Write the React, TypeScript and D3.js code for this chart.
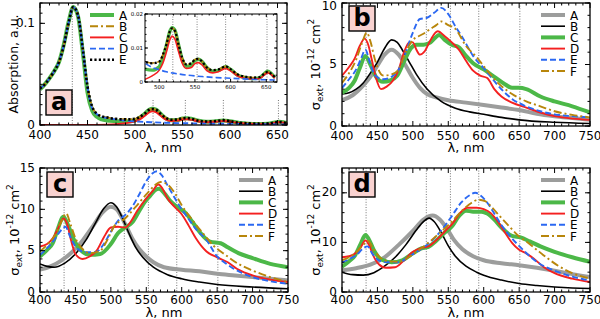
import React from 'react';
import * as d3 from 'd3';

type Pt = [number, number];

// ---------- panel a : absorption ----------
const aA: Pt[] = [[400,0.035],[405,0.040],[410,0.046],[415,0.053],[420,0.062],[425,0.079],[430,0.101],[435,0.116],[440,0.107],[445,0.072],[450,0.032],[455,0.014],[460,0.008],[465,0.0055],[470,0.0045],[480,0.0038],[490,0.0035],[500,0.0045],[505,0.0072],[510,0.0108],[515,0.015],[518,0.016],[522,0.0152],[527,0.011],[532,0.0068],[538,0.0046],[545,0.005],[550,0.0063],[555,0.0067],[560,0.006],[567,0.0042],[575,0.0032],[583,0.0034],[593,0.0045],[600,0.0037],[610,0.002],[620,0.0013],[630,0.001],[640,0.0012],[647,0.0024],[652,0.0032],[657,0.0025],[662,0.0013]];
const aB: Pt[] = [[400,0.036],[405,0.040],[410,0.046],[415,0.053],[420,0.062],[425,0.078],[430,0.100],[435,0.116],[440,0.108],[445,0.075],[450,0.038],[455,0.018],[460,0.011],[465,0.0085],[470,0.0075],[480,0.006],[490,0.0056],[500,0.006],[505,0.008],[510,0.011],[515,0.015],[518,0.0158],[522,0.015],[527,0.011],[532,0.0072],[538,0.0052],[545,0.0055],[550,0.0066],[555,0.0068],[560,0.006],[567,0.0042],[575,0.0035],[583,0.0037],[593,0.0046],[600,0.0038],[610,0.0022],[620,0.0016],[630,0.0013],[640,0.0014],[647,0.0024],[652,0.003],[657,0.0024],[662,0.0014]];
const aC: Pt[] = [[400,0],[440,0],[460,0.0001],[470,0.0003],[480,0.0008],[490,0.0018],[500,0.0035],[505,0.0055],[510,0.0088],[515,0.0125],[518,0.0135],[522,0.0126],[527,0.009],[532,0.0056],[538,0.004],[545,0.0043],[550,0.0054],[555,0.0057],[560,0.005],[567,0.0033],[575,0.0027],[583,0.003],[593,0.004],[600,0.0032],[610,0.0017],[620,0.0011],[630,0.0009],[640,0.001],[647,0.002],[652,0.0027],[657,0.0021],[662,0.0011]];
const aD: Pt[] = [[400,0.036],[405,0.040],[410,0.046],[415,0.053],[420,0.062],[425,0.078],[430,0.100],[435,0.116],[440,0.108],[445,0.075],[450,0.037],[455,0.016],[460,0.0105],[465,0.008],[470,0.007],[480,0.0055],[490,0.0043],[500,0.0036],[510,0.003],[520,0.0026],[540,0.002],[560,0.0016],[580,0.0013],[600,0.0011],[630,0.0008],[662,0.0006]];
const aE: Pt[] = [[400,0.036],[405,0.040],[410,0.046],[415,0.053],[420,0.062],[425,0.078],[430,0.100],[435,0.116],[440,0.108],[445,0.075],[450,0.038],[455,0.018],[460,0.011],[465,0.0085],[470,0.0075],[480,0.006],[490,0.0055],[500,0.006],[505,0.008],[510,0.011],[515,0.015],[518,0.0158],[522,0.015],[527,0.011],[532,0.0072],[538,0.0052],[545,0.0055],[550,0.0066],[555,0.0068],[560,0.006],[567,0.0042],[575,0.0035],[583,0.0037],[593,0.0046],[600,0.0038],[610,0.0022],[620,0.0016],[630,0.0013],[640,0.0014],[647,0.0024],[652,0.003],[657,0.0024],[662,0.0014]];

// ---------- panel b ----------
const bA: Pt[] = [[400,2.1],[415,2.5],[430,3.3],[440,4.0],[450,4.9],[460,5.8],[470,6.2],[480,5.8],[490,4.9],[500,3.9],[510,3.1],[520,2.6],[535,2.3],[550,2.1],[575,1.9],[600,1.7],[625,1.5],[650,1.3],[675,1.0],[700,0.8],[725,0.65],[750,0.5]];
const bB: Pt[] = [[400,2.6],[410,2.7],[420,3.0],[430,3.5],[440,4.3],[450,5.2],[460,6.3],[470,7.0],[478,6.8],[485,6.2],[495,5.2],[505,4.2],[520,3.0],[540,2.0],[560,1.45],[580,1.15],[600,0.95],[625,0.7],[650,0.5],[700,0.3],[750,0.2]];
const bC: Pt[] = [[400,2.7],[410,3.1],[418,3.7],[425,4.7],[433,5.7],[440,5.0],[448,4.0],[458,3.6],[468,3.7],[478,4.1],[488,5.3],[497,6.3],[505,6.6],[515,6.6],[525,6.8],[532,7.2],[537,7.4],[545,7.0],[555,6.6],[565,6.4],[575,5.7],[585,5.1],[600,4.6],[615,4.0],[630,3.4],[640,3.1],[650,3.1],[660,3.0],[680,2.4],[700,2.0],[725,1.6],[750,1.1]];
const bD: Pt[] = [[400,4.1],[410,4.8],[418,5.5],[425,6.5],[432,7.1],[437,6.6],[442,5.4],[448,3.9],[455,3.0],[463,3.2],[472,3.7],[480,4.6],[487,5.9],[495,6.8],[500,6.8],[505,6.2],[510,5.8],[517,6.1],[525,7.0],[535,7.7],[545,7.3],[555,6.8],[565,6.2],[575,5.3],[585,4.5],[595,4.1],[605,3.9],[615,3.0],[625,2.4],[640,1.9],[660,1.5],[680,1.1],[700,0.8],[725,0.6],[750,0.5]];
const bE: Pt[] = [[400,3.1],[410,3.8],[420,4.6],[427,5.5],[433,6.2],[440,5.0],[447,4.1],[458,3.8],[470,4.0],[480,4.6],[490,6.0],[500,7.6],[510,8.7],[520,8.8],[530,9.2],[540,9.6],[550,9.1],[560,8.1],[570,7.2],[585,5.7],[600,4.7],[610,4.0],[620,3.3],[630,2.7],[640,2.2],[660,1.6],[680,1.2],[700,0.95],[725,0.8],[750,0.7]];
const bF: Pt[] = [[400,3.5],[410,4.3],[420,5.4],[428,6.7],[435,7.6],[440,6.9],[447,5.3],[458,4.1],[470,4.2],[480,4.6],[490,6.0],[500,7.0],[508,7.3],[515,7.5],[525,7.9],[533,8.2],[540,8.5],[550,8.2],[560,7.9],[575,6.5],[590,5.6],[605,4.5],[620,3.5],[640,2.6],[660,2.0],[680,1.6],[700,1.2],[725,0.9],[750,0.7]];

// ---------- panel c ----------
const cA: Pt[] = [[400,2.7],[415,3.1],[430,3.8],[445,4.8],[460,6.2],[475,8.0],[488,9.6],[500,10.3],[508,10.0],[515,9.1],[522,7.9],[530,6.5],[540,5.2],[550,4.3],[560,3.6],[575,3.0],[600,2.7],[625,2.5],[650,2.2],[675,2.0],[700,1.8],[725,1.6],[750,1.4]];
const cB: Pt[] = [[400,3.4],[410,3.1],[420,3.0],[435,3.5],[450,4.6],[465,6.3],[478,8.3],[490,10.1],[500,10.8],[508,10.3],[515,9.2],[525,7.2],[535,5.4],[545,4.2],[560,3.0],[580,2.1],[600,1.6],[625,1.2],[650,0.9],[700,0.6],[750,0.4]];
const cC: Pt[] = [[400,4.3],[410,5.1],[418,5.9],[425,7.6],[433,9.1],[440,8.0],[448,6.3],[458,5.0],[470,4.5],[485,4.6],[500,5.8],[510,7.1],[520,7.8],[530,8.4],[540,9.8],[548,10.9],[555,11.6],[562,12.3],[568,12.5],[575,12.0],[583,11.1],[595,10.2],[605,9.6],[615,8.5],[625,7.3],[640,6.1],[655,5.9],[665,5.4],[680,4.7],[700,4.1],[725,3.4],[750,3.0]];
const cD: Pt[] = [[400,5.5],[410,5.8],[418,6.5],[425,7.6],[433,8.9],[438,8.3],[444,6.2],[450,4.6],[460,4.0],[470,4.3],[480,5.0],[490,6.6],[500,7.8],[510,7.9],[520,7.8],[528,8.5],[537,9.8],[548,11.1],[558,12.1],[567,13.0],[573,12.5],[580,11.3],[590,10.3],[600,9.4],[610,8.0],[620,6.5],[635,4.9],[650,4.2],[665,3.6],[680,2.7],[700,2.0],[725,1.5],[750,1.2]];
const cE: Pt[] = [[400,4.5],[410,5.3],[420,6.3],[430,7.5],[436,7.9],[442,6.8],[452,5.3],[465,4.8],[478,4.8],[490,5.8],[500,7.3],[510,8.6],[520,9.3],[530,10.3],[540,11.8],[550,13.4],[558,14.3],[565,14.6],[572,14.1],[580,12.9],[590,11.4],[600,10.0],[610,8.8],[620,7.6],[635,6.3],[650,4.3],[660,3.6],[670,3.0],[685,2.3],[700,1.8],[725,1.3],[750,1.0]];
const cF: Pt[] = [[400,4.9],[410,5.7],[420,6.7],[430,8.5],[437,9.5],[443,8.2],[450,6.5],[460,5.2],[470,4.7],[485,5.0],[495,6.3],[505,8.0],[520,8.9],[535,10.3],[550,11.8],[562,12.9],[570,13.3],[580,13.0],[590,12.0],[600,10.5],[615,8.7],[630,7.1],[645,5.6],[660,4.6],[680,3.4],[700,2.6],[725,1.8],[750,1.2]];

// ---------- panel d ----------
const dA: Pt[] = [[400,4.4],[420,4.8],[440,5.5],[460,7.0],[480,9.5],[500,12.3],[515,14.6],[528,15.4],[538,14.6],[548,12.8],[558,10.5],[570,8.6],[585,7.2],[600,6.4],[625,5.8],[650,5.4],[675,4.9],[700,4.3],[725,3.6],[750,3.0]];
const dB: Pt[] = [[400,4.0],[415,3.5],[430,3.4],[445,3.9],[460,5.2],[475,7.0],[490,9.5],[505,12.5],[515,14.2],[523,14.9],[530,14.2],[540,12.0],[550,9.3],[560,7.2],[575,5.2],[590,4.0],[600,3.4],[625,2.4],[650,1.7],[675,1.3],[700,1.0],[725,0.8],[750,0.7]];
const dC: Pt[] = [[400,5.1],[410,6.2],[418,7.3],[426,9.6],[433,11.5],[438,10.6],[445,8.4],[455,6.6],[470,6.0],[485,6.4],[500,7.8],[512,8.8],[522,9.1],[532,10.2],[545,12.0],[555,13.2],[565,15.3],[575,16.4],[585,16.2],[597,16.2],[605,15.8],[615,14.6],[625,13.0],[640,11.3],[652,11.0],[665,10.2],[680,9.2],[700,8.1],[725,7.0],[750,6.1]];
const dD: Pt[] = [[400,7.0],[410,7.2],[418,7.7],[426,8.9],[433,10.4],[438,9.5],[444,7.4],[452,5.6],[462,4.9],[475,5.0],[487,6.3],[500,8.1],[512,8.9],[522,9.2],[532,10.3],[545,12.2],[557,14.0],[567,16.0],[577,17.0],[590,17.0],[600,16.7],[610,15.9],[620,14.2],[630,12.0],[640,9.9],[650,8.5],[660,7.8],[670,6.8],[685,5.0],[700,3.8],[725,2.7],[750,2.0]];
const dE: Pt[] = [[400,6.0],[410,6.6],[420,7.4],[430,8.8],[436,9.2],[443,7.7],[452,6.4],[465,6.0],[480,6.0],[495,7.2],[510,8.5],[525,10.1],[540,12.4],[555,15.3],[568,18.0],[580,19.5],[588,20.0],[596,19.4],[605,18.0],[615,15.8],[625,13.5],[640,10.8],[652,9.0],[665,7.2],[680,5.6],[700,4.3],[725,3.1],[750,2.3]];
const dF: Pt[] = [[400,6.4],[410,7.0],[420,8.0],[430,9.5],[437,10.3],[443,9.0],[452,7.2],[465,6.2],[480,6.1],[495,7.1],[510,8.6],[525,10.3],[540,12.2],[555,14.2],[570,16.5],[583,18.0],[592,18.6],[602,18.3],[612,17.0],[622,15.4],[635,13.4],[650,11.2],[662,10.0],[675,8.5],[690,6.8],[705,5.3],[725,3.8],[750,2.7]];

// tick values / reference lines
const xTicksA = [400, 450, 500, 550, 600, 650];
const xTicksBCD = [400, 450, 500, 550, 600, 650, 700, 750];
const insetTicks = [500, 550, 600, 650];
const refLines = [434, 519, 553, 593, 651];

const FONT = "'DejaVu Sans', sans-serif";

const STYLES: Record<string, { stroke: string; width: number; dash?: string }> = {
  gray: { stroke: '#9c9d9c', width: 4 },
  black: { stroke: '#000', width: 1.6 },
  green: { stroke: '#4cb848', width: 4 },
  red: { stroke: '#f42020', width: 1.9 },
  blue: { stroke: '#2b68f2', width: 1.9, dash: '6,3' },
  gold: { stroke: '#b8860b', width: 1.9, dash: '8,3,2,3' },
  dotted: { stroke: '#000', width: 2.6, dash: '2.2,2.2' },
};

interface Curve { name: string; data: Pt[]; style: string }

const curvesA: Curve[] = [
  { name: 'A', data: aA, style: 'green' },
  { name: 'B', data: aB, style: 'gold' },
  { name: 'C', data: aC, style: 'red' },
  { name: 'D', data: aD, style: 'blue' },
  { name: 'E', data: aE, style: 'dotted' },
];
const six = (A: Pt[], B: Pt[], C: Pt[], D: Pt[], E: Pt[], F: Pt[]): Curve[] => [
  { name: 'A', data: A, style: 'gray' },
  { name: 'B', data: B, style: 'black' },
  { name: 'C', data: C, style: 'green' },
  { name: 'D', data: D, style: 'red' },
  { name: 'E', data: E, style: 'blue' },
  { name: 'F', data: F, style: 'gold' },
];

interface PanelDef {
  letter: string;
  left: number; right: number; top: number; bottom: number;
  xDomain: [number, number]; yDomain: [number, number];
  xTicks: number[]; yTicks: number[]; yMinor: number;
  curves: Curve[];
  legendX: number; legendY: number;
  boxX: number; boxY: number;
  ylabel: 'abs' | 'sigma';
  ylabelX: number;
  tickDy: number; titleDy: number;
}

const line = (x: d3.ScaleLinear<number, number>, y: d3.ScaleLinear<number, number>) =>
  d3.line<Pt>().x(d => x(d[0])).y(d => y(d[1])).curve(d3.curveMonotoneX);

function Ticks({ x, y, xMajor, xMinor, yMajor, yMinor, big = 5, small = 2.5 }: any) {
  const [l, r] = x.range();
  const [b, t] = y.range();
  const out: JSX.Element[] = [];
  xMajor.forEach((v: number, i: number) => {
    out.push(<line key={'xb' + i} x1={x(v)} x2={x(v)} y1={b} y2={b - big} />);
    out.push(<line key={'xt' + i} x1={x(v)} x2={x(v)} y1={t} y2={t + big} />);
  });
  xMinor.forEach((v: number, i: number) => {
    out.push(<line key={'xmb' + i} x1={x(v)} x2={x(v)} y1={b} y2={b - small} />);
    out.push(<line key={'xmt' + i} x1={x(v)} x2={x(v)} y1={t} y2={t + small} />);
  });
  yMajor.forEach((v: number, i: number) => {
    out.push(<line key={'yl' + i} x1={l} x2={l + big} y1={y(v)} y2={y(v)} />);
    out.push(<line key={'yr' + i} x1={r} x2={r - big} y1={y(v)} y2={y(v)} />);
  });
  yMinor.forEach((v: number, i: number) => {
    out.push(<line key={'yml' + i} x1={l} x2={l + small} y1={y(v)} y2={y(v)} />);
    out.push(<line key={'ymr' + i} x1={r} x2={r - small} y1={y(v)} y2={y(v)} />);
  });
  return <g stroke="#000" strokeWidth={1}>{out}</g>;
}

function Inset() {
  const x = d3.scaleLinear().domain([480, 665]).range([145, 277]);
  const y = d3.scaleLinear().domain([0, 0.02]).range([82, 14]);
  const gen = line(x, y);
  const xMinor = d3.range(480, 666, 10).filter(v => v % 50 !== 0);
  const yMinor = d3.range(0, 0.0201, 0.002);
  return (
    <g>
      <rect x={145} y={14} width={132} height={68} fill="#fff" />
      <clipPath id="clip-inset"><rect x={145} y={14} width={132} height={68} /></clipPath>
      {refLines.slice(1).map(v => (
        <line key={v} x1={x(v)} x2={x(v)} y1={14} y2={82} stroke="#666" strokeWidth={0.8} strokeDasharray="1,1.5" />
      ))}
      <g clipPath="url(#clip-inset)">
        {curvesA.map(c => {
          const s = STYLES[c.style];
          return <path key={c.name} d={gen(c.data) || ''} fill="none" stroke={s.stroke}
            strokeWidth={s.width * 0.85} strokeDasharray={s.dash} />;
        })}
      </g>
      <Ticks x={x} y={y} xMajor={insetTicks} xMinor={xMinor} yMajor={[0, 0.01, 0.02]} yMinor={yMinor} big={3} small={1.5} />
      <rect x={145} y={14} width={132} height={68} fill="none" stroke="#000" strokeWidth={1} />
      <g fontFamily={FONT} fontSize={5.5} fill="#000">
        {insetTicks.map(v => <text key={v} x={x(v)} y={89} textAnchor="middle">{v}</text>)}
        {[0, 0.01, 0.02].map(v => <text key={v} x={143} y={y(v) + 2} textAnchor="end">{v}</text>)}
      </g>
    </g>
  );
}

function Panel({ p }: { p: PanelDef }) {
  const x = d3.scaleLinear().domain(p.xDomain).range([p.left, p.right]);
  const y = d3.scaleLinear().domain(p.yDomain).range([p.bottom, p.top]);
  const gen = line(x, y);
  const xMinor = d3.range(p.xDomain[0], p.xDomain[1] + 0.1, 10).filter(v => v % 50 !== 0);
  const yMinor = d3.range(p.yDomain[0], p.yDomain[1] + 1e-9, p.yMinor);
  const isA = p.letter === 'a';
  const cx = (p.left + p.right) / 2;
  const cy = (p.top + p.bottom) / 2;
  return (
    <g>
      <clipPath id={'clip-' + p.letter}>
        <rect x={p.left} y={p.top} width={p.right - p.left} height={p.bottom - p.top} />
      </clipPath>
      {refLines.map((v, i) => (
        <line key={v} x1={x(v)} x2={x(v)} y1={isA && i > 0 ? p.bottom - 25 : p.top} y2={p.bottom}
          stroke="#666" strokeWidth={0.9} strokeDasharray="1,1.6" />
      ))}
      <g clipPath={`url(#clip-${p.letter})`}>
        {p.curves.map(c => {
          const s = STYLES[c.style];
          return <path key={c.name} d={gen(c.data) || ''} fill="none" stroke={s.stroke}
            strokeWidth={s.width} strokeDasharray={s.dash} strokeLinejoin="round" />;
        })}
      </g>
      {/* legend */}
      <g fontFamily={FONT} fontSize={12} fill="#000">
        {p.curves.map((c, i) => {
          const s = STYLES[c.style];
          const ly = p.legendY + i * 11.2;
          return (
            <g key={c.name}>
              <line x1={p.legendX} x2={p.legendX + 24} y1={ly} y2={ly} stroke={s.stroke}
                strokeWidth={s.width} strokeDasharray={s.dash} />
              <text x={p.legendX + 29} y={ly + 4.5}>{c.name}</text>
            </g>
          );
        })}
      </g>
      {isA && <Inset />}
      <Ticks x={x} y={y} xMajor={p.xTicks} xMinor={xMinor} yMajor={p.yTicks} yMinor={yMinor} />
      <rect x={p.left} y={p.top} width={p.right - p.left} height={p.bottom - p.top}
        fill="none" stroke="#000" strokeWidth={1.3} />
      {/* tick labels */}
      <g fontFamily={FONT} fontSize={12} fill="#000">
        {p.xTicks.map(v => <text key={v} x={x(v)} y={p.bottom + p.tickDy} textAnchor="middle">{v}</text>)}
        {p.yTicks.map(v => (
          <text key={v} x={p.left - 5} y={Math.max(y(v) + 3.5, 10)} textAnchor="end">{String(v)}</text>
        ))}
        <text x={cx} y={p.bottom + p.titleDy} textAnchor="middle" fontSize={13}>λ, nm</text>
        {p.ylabel === 'abs' ? (
          <text transform={`translate(${p.ylabelX},${cy}) rotate(-90)`} textAnchor="middle" fontSize={12.5}>
            Absorption, a.u.
          </text>
        ) : (
          <text transform={`translate(${p.ylabelX},${cy}) rotate(-90)`} textAnchor="middle" fontSize={13}>
            σ<tspan fontSize={9} dy={3}>ext</tspan>
            <tspan dy={-3}>, 10</tspan>
            <tspan fontSize={9} dy={-6}>-12</tspan>
            <tspan dy={6}> cm</tspan>
            <tspan fontSize={9} dy={-6}>2</tspan>
          </text>
        )}
      </g>
      {/* panel letter */}
      <rect x={p.boxX} y={p.boxY} width={26} height={25} fill="#f9d2d0" stroke="#000" strokeWidth={1.4} />
      <text x={p.boxX + 13} y={p.boxY + 20} textAnchor="middle" fontFamily={FONT} fontWeight="bold"
        fontSize={24} fill="#000">{p.letter}</text>
    </g>
  );
}

const panels: PanelDef[] = [
  {
    letter: 'a', left: 40, right: 287, top: 3, bottom: 125,
    xDomain: [400, 660], yDomain: [0, 0.12], xTicks: xTicksA, yTicks: [0, 0.1], yMinor: 0.01,
    curves: curvesA, legendX: 90, legendY: 15, boxX: 46, boxY: 90,
    ylabel: 'abs', ylabelX: 18, tickDy: 14, titleDy: 27,
  },
  {
    letter: 'b', left: 342, right: 590, top: 3, bottom: 126,
    xDomain: [400, 750], yDomain: [0, 10], xTicks: xTicksBCD, yTicks: [0, 5, 10], yMinor: 1,
    curves: six(bA, bB, bC, bD, bE, bF), legendX: 541, legendY: 15, boxX: 349, boxY: 6,
    ylabel: 'sigma', ylabelX: 320, tickDy: 14, titleDy: 26,
  },
  {
    letter: 'c', left: 40, right: 288, top: 168, bottom: 292,
    xDomain: [400, 750], yDomain: [0, 15], xTicks: xTicksBCD, yTicks: [0, 5, 10, 15], yMinor: 1,
    curves: six(cA, cB, cC, cD, cE, cF), legendX: 239, legendY: 180, boxX: 47, boxY: 172,
    ylabel: 'sigma', ylabelX: 19, tickDy: 12, titleDy: 24.5,
  },
  {
    letter: 'd', left: 342, right: 590, top: 168, bottom: 292,
    xDomain: [400, 750], yDomain: [0, 25], xTicks: xTicksBCD, yTicks: [0, 10, 20], yMinor: 2,
    curves: six(dA, dB, dC, dD, dE, dF), legendX: 541, legendY: 180, boxX: 349, boxY: 172,
    ylabel: 'sigma', ylabelX: 320, tickDy: 12, titleDy: 24.5,
  },
];

export default function App() {
  return (
    <svg width={600} height={319} style={{ position: 'absolute', left: 0, top: 0, background: '#fff' }}>
      {panels.map(p => <Panel key={p.letter} p={p} />)}
    </svg>
  );
}
